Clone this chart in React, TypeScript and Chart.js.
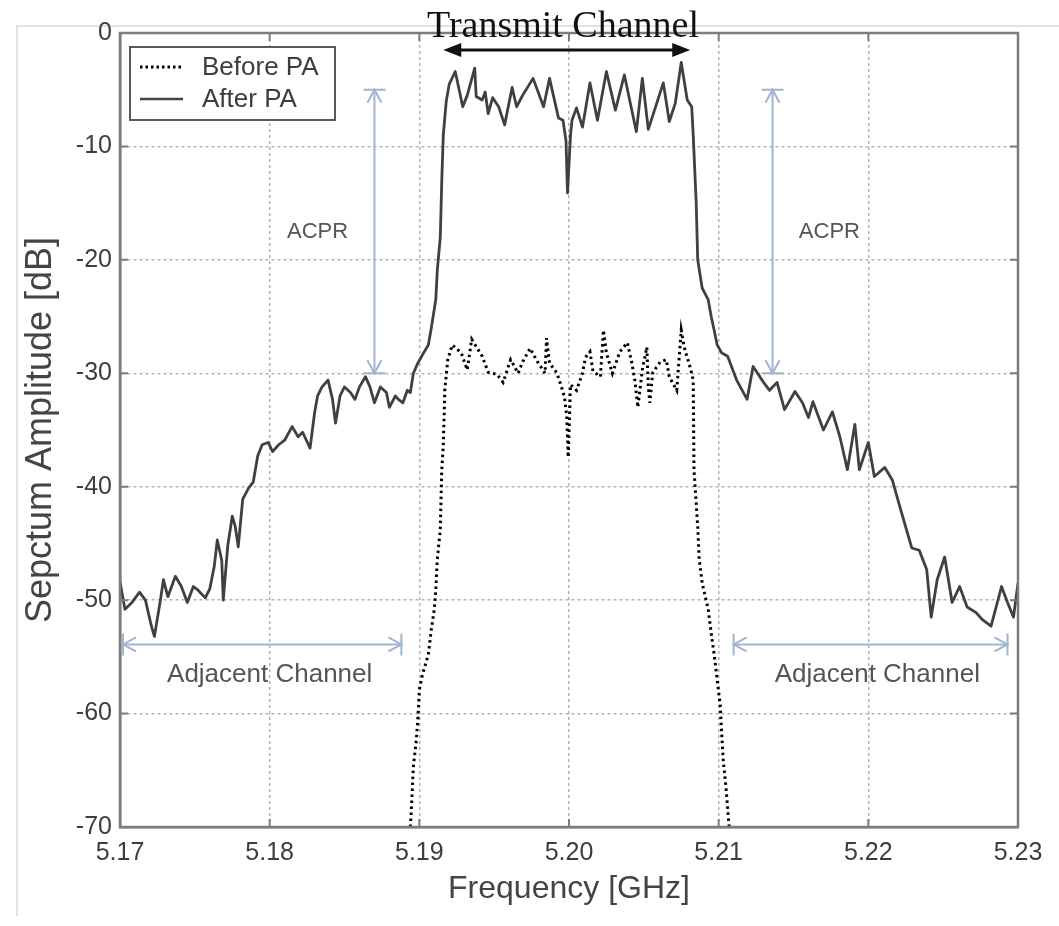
import React, { useEffect, useRef } from "react";
import { Chart, registerables } from "chart.js";

Chart.register(...registerables);

// ---- axis ticks ----
const X_TICKS = [5.17, 5.18, 5.19, 5.2, 5.21, 5.22, 5.23];
const Y_TICKS = [0, -10, -20, -30, -40, -50, -60, -70];

// ---- series: After PA (solid) ----
const AFTER_FREQ = [
  5.17, 5.17033, 5.1708, 5.1713, 5.1717, 5.1721, 5.1723, 5.1727, 5.1729, 5.1732,
  5.1737, 5.1741, 5.1745, 5.1749, 5.1752, 5.1757, 5.176, 5.1763, 5.1765, 5.1768,
  5.1769, 5.1772, 5.1775, 5.1777, 5.1779, 5.1782, 5.1786, 5.1789, 5.1792, 5.1795,
  5.1799, 5.1802, 5.1806, 5.181, 5.1815, 5.1819, 5.1822, 5.1827, 5.183, 5.1832,
  5.1835, 5.1839, 5.1842, 5.1844, 5.1847, 5.185, 5.1854, 5.1857, 5.186, 5.1864,
  5.1867, 5.187, 5.1874, 5.1878, 5.188, 5.1884, 5.1886, 5.1889, 5.1892, 5.1894,
  5.1896, 5.1899, 5.1902, 5.1906, 5.1908, 5.1911, 5.1912, 5.1914, 5.1915, 5.1916,
  5.1918, 5.192, 5.1924, 5.1929, 5.1932, 5.1937, 5.1938, 5.1942, 5.1944, 5.1946,
  5.1949, 5.1953, 5.1957, 5.1962, 5.1965, 5.1969, 5.1976, 5.1983, 5.1987, 5.1993,
  5.1996, 5.1998, 5.1999, 5.2001, 5.2002, 5.2005, 5.2009, 5.2014, 5.2019, 5.2025,
  5.2031, 5.2037, 5.2045, 5.2049, 5.2053, 5.2063, 5.2067, 5.2071, 5.2075, 5.2079,
  5.2082, 5.2083, 5.2085, 5.2086, 5.2089, 5.2093, 5.2095, 5.2097, 5.2099, 5.2102,
  5.2106, 5.2112, 5.2119, 5.2123, 5.213, 5.2134, 5.2139, 5.2144, 5.2151, 5.2156,
  5.216, 5.2163, 5.217, 5.2176, 5.2181, 5.2186, 5.2191, 5.2194, 5.22, 5.2204,
  5.2211, 5.2216, 5.2222, 5.2229, 5.2234, 5.2239, 5.2242, 5.2246, 5.2251, 5.2256,
  5.2261, 5.2266, 5.2272, 5.2276, 5.2282, 5.2289, 5.2293, 5.2297, 5.23,
];
const AFTER_DB = [
  -48.4, -50.8, -50.2, -49.3, -50.0, -52.3, -53.2, -50.0, -48.2, -49.7,
  -47.9, -48.8, -50.2, -48.8, -49.1, -49.8, -49.0, -47.0, -44.7, -46.5,
  -50.0, -45.2, -42.6, -43.5, -45.3, -41.1, -40.1, -39.6, -37.3, -36.3,
  -36.1, -36.9, -36.3, -35.9, -34.7, -35.6, -35.2, -36.6, -33.5, -32.0,
  -31.2, -30.6, -32.3, -34.4, -32.0, -31.2, -31.7, -32.3, -31.2, -30.3,
  -31.2, -32.6, -31.2, -31.7, -33.0, -32.0, -32.3, -32.6, -31.5, -31.7,
  -30.0, -29.1, -28.4, -27.5, -26.0, -23.5, -20.9, -18.0, -13.0, -9.0,
  -6.0, -4.5, -3.4, -6.5, -5.5, -3.1, -5.6, -5.9, -5.2, -7.1,
  -5.7, -6.5, -8.1, -4.8, -6.5, -5.5, -4.0, -6.5, -4.0, -7.5,
  -7.7, -9.5, -14.1, -9.0, -7.7, -6.6, -8.3, -4.4, -7.7, -3.4,
  -6.8, -3.7, -8.7, -4.0, -8.5, -4.4, -7.8, -6.2, -2.6, -5.9,
  -6.5, -9.0, -15.0, -20.0, -22.5, -23.5, -25.0, -26.2, -27.5, -28.2,
  -28.5, -30.6, -32.3, -29.4, -30.8, -31.5, -30.8, -33.2, -31.6, -32.6,
  -33.9, -32.5, -35.0, -33.4, -35.6, -38.5, -34.5, -38.5, -36.1, -39.1,
  -38.3, -39.4, -42.2, -45.4, -45.6, -47.3, -51.5, -48.2, -46.2, -50.2,
  -48.8, -50.6, -51.1, -51.7, -52.3, -48.8, -50.2, -51.5, -48.5,
];

// ---- series: Before PA (dotted) ----
const BEFORE_FREQ = [
  5.1894, 5.1895, 5.1896, 5.1898, 5.1899, 5.19, 5.1902, 5.1906, 5.1908, 5.191,
  5.1911, 5.1912, 5.1914, 5.19145, 5.1915, 5.1916, 5.19165, 5.1917, 5.1919, 5.1922,
  5.1928, 5.1932, 5.1935, 5.1942, 5.1946, 5.1952, 5.1956, 5.1961, 5.1966, 5.1969,
  5.1974, 5.1979, 5.1984, 5.1985, 5.1987, 5.1992, 5.1995, 5.1997, 5.19985, 5.19995,
  5.2001, 5.2005, 5.2009, 5.2011, 5.2014, 5.2016, 5.2021, 5.2023, 5.2025, 5.2029,
  5.2034, 5.2039, 5.2042, 5.2044, 5.2046, 5.2049, 5.2052, 5.2053, 5.2054, 5.2056,
  5.2061, 5.2065, 5.2067, 5.2072, 5.2073, 5.2075, 5.2077, 5.2081, 5.2083, 5.20835,
  5.2086, 5.2087, 5.2089, 5.2093, 5.2095, 5.2097, 5.2099, 5.2101, 5.2102, 5.2103,
  5.2105, 5.2107,
];
const BEFORE_DB = [
  -70.0, -67.6, -64.7, -62.3, -60.5, -57.9, -56.6, -54.8, -52.6, -50.8,
  -49.1, -46.4, -43.8, -41.1, -38.5, -36.3, -34.1, -31.5, -28.8, -27.5,
  -28.2, -29.7, -27.0, -28.5, -29.9, -30.1, -30.8, -28.8, -30.0, -29.0,
  -27.8, -29.0, -30.0, -26.9, -29.1, -30.0, -31.2, -32.1, -33.8, -37.4,
  -31.0, -31.5, -30.0, -28.6, -28.1, -29.8, -30.3, -26.2, -28.2, -30.0,
  -28.1, -27.3, -29.1, -30.6, -33.0, -29.7, -27.7, -31.2, -32.6, -29.9,
  -29.0, -28.8, -30.3, -31.5, -29.7, -26.2, -27.7, -29.5, -30.6, -38.5,
  -43.5, -46.4, -48.5, -50.8, -52.9, -54.8, -57.0, -59.2, -61.7, -64.0,
  -66.7, -70.0,
];

const SERIES_NAMES = ["Before PA", "After PA"];
const X_TITLE = "Frequency [GHz]";
const Y_TITLE = "Sepctum Amplitude [dB]";

// ---- annotations (data units) ----
const TRANSMIT_LABEL = "Transmit Channel";
const TRANSMIT_FROM = 5.1916;
const TRANSMIT_TO = 5.2081;
const TRANSMIT_DB = -1.5;
const TRANSMIT_LABEL_F = 5.1996;

const ACPR_LABEL = "ACPR";
const ACPR_ARROW_F = [5.187, 5.2136];
const ACPR_TOP_DB = -5;
const ACPR_BOTTOM_DB = -30;
const ACPR_LABEL_F = [5.1832, 5.2174];
const ACPR_LABEL_DB = -17.5;

const ADJ_LABEL = "Adjacent Channel";
const ADJ_FROM = [5.1702, 5.211];
const ADJ_TO = [5.1888, 5.2293];
const ADJ_DB = -53.9;
const ADJ_LABEL_F = [5.18, 5.2206];
const ADJ_LABEL_DB = -56.6;

const SANS = "'Liberation Sans', Arial, sans-serif";
const SERIF = "'Liberation Serif', 'Times New Roman', serif";
const AXIS_GREY = "#7c7c7c";
const TEXT_GREY = "#3d3d3d";
const NOTE_BLUE = "#9fb5d2";
const NOTE_TEXT = "#555555";

function openHead(ctx: CanvasRenderingContext2D, tx: number, ty: number, ux: number, uy: number, len: number, half: number) {
  const bx = tx - ux * len;
  const by = ty - uy * len;
  const nx = -uy;
  const ny = ux;
  ctx.beginPath();
  ctx.moveTo(bx + nx * half, by + ny * half);
  ctx.lineTo(tx, ty);
  ctx.lineTo(bx - nx * half, by - ny * half);
  ctx.stroke();
}

function capArrow(ctx: CanvasRenderingContext2D, x1: number, y1: number, x2: number, y2: number) {
  const dx = x2 - x1;
  const dy = y2 - y1;
  const L = Math.hypot(dx, dy);
  const ux = dx / L;
  const uy = dy / L;
  const nx = -uy;
  const ny = ux;
  ctx.save();
  ctx.strokeStyle = NOTE_BLUE;
  ctx.lineWidth = 2;
  ctx.beginPath();
  ctx.moveTo(x1, y1);
  ctx.lineTo(x2, y2);
  ctx.stroke();
  const bar = 11;
  ctx.beginPath();
  ctx.moveTo(x1 + nx * bar, y1 + ny * bar);
  ctx.lineTo(x1 - nx * bar, y1 - ny * bar);
  ctx.moveTo(x2 + nx * bar, y2 + ny * bar);
  ctx.lineTo(x2 - nx * bar, y2 - ny * bar);
  ctx.stroke();
  openHead(ctx, x2, y2, ux, uy, 13, 7);
  openHead(ctx, x1, y1, -ux, -uy, 13, 7);
  ctx.restore();
}

function filledHead(ctx: CanvasRenderingContext2D, tx: number, ty: number, dir: number) {
  ctx.beginPath();
  ctx.moveTo(tx, ty);
  ctx.lineTo(tx - dir * 18, ty - 7);
  ctx.lineTo(tx - dir * 18, ty + 7);
  ctx.closePath();
  ctx.fill();
}

const decorPlugin = {
  id: "decor",
  beforeDraw(chart: any) {
    const { ctx, width, height } = chart;
    ctx.save();
    ctx.fillStyle = "#ffffff";
    ctx.fillRect(0, 0, width, height);
    ctx.strokeStyle = "#e2e2e2";
    ctx.lineWidth = 2;
    ctx.beginPath();
    ctx.moveTo(17, height - 10);
    ctx.lineTo(17, 26);
    ctx.lineTo(width, 26);
    ctx.stroke();
    ctx.restore();
  },
  afterDatasetsDraw(chart: any) {
    const { ctx, chartArea: a, scales } = chart;
    const xs = scales.x;
    const ys = scales.y;
    ctx.save();
    ctx.strokeStyle = AXIS_GREY;
    ctx.lineWidth = 2.5;
    ctx.strokeRect(a.left, a.top, a.right - a.left, a.bottom - a.top);
    ctx.lineWidth = 2;
    ctx.beginPath();
    X_TICKS.forEach((v) => {
      const px = xs.getPixelForValue(v);
      ctx.moveTo(px, a.bottom);
      ctx.lineTo(px, a.bottom - 8);
      ctx.moveTo(px, a.top);
      ctx.lineTo(px, a.top + 8);
    });
    Y_TICKS.forEach((v) => {
      const py = ys.getPixelForValue(v);
      ctx.moveTo(a.left, py);
      ctx.lineTo(a.left + 8, py);
      ctx.moveTo(a.right, py);
      ctx.lineTo(a.right - 8, py);
    });
    ctx.stroke();

    // legend
    const lx = a.left + 10;
    const ly = a.top + 14;
    const lw = 205;
    const lh = 73;
    ctx.fillStyle = "#ffffff";
    ctx.fillRect(lx, ly, lw, lh);
    ctx.strokeStyle = "#595959";
    ctx.lineWidth = 2;
    ctx.strokeRect(lx, ly, lw, lh);
    const rows = [ly + 20, ly + 52];
    ctx.lineWidth = 3;
    ctx.strokeStyle = "#000000";
    ctx.setLineDash([2.5, 3]);
    ctx.beginPath();
    ctx.moveTo(lx + 10, rows[0]);
    ctx.lineTo(lx + 53, rows[0]);
    ctx.stroke();
    ctx.setLineDash([]);
    ctx.strokeStyle = "#444444";
    ctx.lineWidth = 2.5;
    ctx.beginPath();
    ctx.moveTo(lx + 10, rows[1]);
    ctx.lineTo(lx + 53, rows[1]);
    ctx.stroke();
    ctx.fillStyle = TEXT_GREY;
    ctx.font = `26px ${SANS}`;
    ctx.textAlign = "left";
    ctx.textBaseline = "middle";
    ctx.fillText(SERIES_NAMES[0], lx + 72, rows[0] + 1);
    ctx.fillText(SERIES_NAMES[1], lx + 72, rows[1] + 1);

    // ACPR arrows + labels
    ACPR_ARROW_F.forEach((f) => {
      const px = xs.getPixelForValue(f);
      capArrow(ctx, px, ys.getPixelForValue(ACPR_TOP_DB), px, ys.getPixelForValue(ACPR_BOTTOM_DB));
    });
    ctx.fillStyle = NOTE_TEXT;
    ctx.font = `22px ${SANS}`;
    ctx.textAlign = "center";
    ctx.textBaseline = "middle";
    ACPR_LABEL_F.forEach((f) => {
      ctx.fillText(ACPR_LABEL, xs.getPixelForValue(f), ys.getPixelForValue(ACPR_LABEL_DB));
    });

    // Adjacent channel arrows + labels
    ADJ_FROM.forEach((f, i) => {
      const py = ys.getPixelForValue(ADJ_DB);
      capArrow(ctx, xs.getPixelForValue(f), py, xs.getPixelForValue(ADJ_TO[i]), py);
    });
    ctx.fillStyle = NOTE_TEXT;
    ctx.font = `26px ${SANS}`;
    ADJ_LABEL_F.forEach((f) => {
      ctx.fillText(ADJ_LABEL, xs.getPixelForValue(f), ys.getPixelForValue(ADJ_LABEL_DB));
    });

    // Transmit channel arrow + label
    const ty = ys.getPixelForValue(TRANSMIT_DB);
    const tx1 = xs.getPixelForValue(TRANSMIT_FROM);
    const tx2 = xs.getPixelForValue(TRANSMIT_TO);
    ctx.strokeStyle = "#111111";
    ctx.fillStyle = "#111111";
    ctx.lineWidth = 3;
    ctx.beginPath();
    ctx.moveTo(tx1 + 10, ty);
    ctx.lineTo(tx2 - 10, ty);
    ctx.stroke();
    filledHead(ctx, tx1, ty, -1);
    filledHead(ctx, tx2, ty, 1);
    ctx.font = `38px ${SERIF}`;
    ctx.textAlign = "center";
    ctx.textBaseline = "alphabetic";
    ctx.fillStyle = "#111111";
    ctx.fillText(TRANSMIT_LABEL, xs.getPixelForValue(TRANSMIT_LABEL_F), a.top + 4);
    ctx.restore();
  },
};

export default function App() {
  const ref = useRef<HTMLCanvasElement | null>(null);

  useEffect(() => {
    if (!ref.current) return;
    const chart = new Chart(ref.current, {
      type: "line",
      data: {
        datasets: [
          {
            label: SERIES_NAMES[0],
            data: BEFORE_FREQ.map((f, i) => ({ x: f, y: BEFORE_DB[i] })),
            borderColor: "#000000",
            borderWidth: 3,
            borderDash: [2.5, 3.5],
            pointRadius: 0,
            tension: 0,
            fill: false,
          },
          {
            label: SERIES_NAMES[1],
            data: AFTER_FREQ.map((f, i) => ({ x: f, y: AFTER_DB[i] })),
            borderColor: "#404040",
            borderWidth: 2.8,
            borderJoinStyle: "round",
            pointRadius: 0,
            tension: 0,
            fill: false,
          },
        ],
      },
      options: {
        responsive: false,
        animation: false,
        devicePixelRatio: 1,
        events: [],
        layout: { padding: { left: 0, top: 33, right: 41, bottom: 0 } },
        plugins: {
          legend: { display: false },
          title: { display: false },
          tooltip: { enabled: false },
        },
        scales: {
          x: {
            type: "linear",
            min: 5.17,
            max: 5.23,
            afterBuildTicks: (s: any) => {
              s.ticks = X_TICKS.map((v) => ({ value: v }));
            },
            afterFit: (s: any) => {
              s.height = 99;
            },
            ticks: {
              autoSkip: false,
              maxRotation: 0,
              padding: 11,
              color: TEXT_GREY,
              font: { family: SANS, size: 25 },
              callback: (v: any) => Number(v).toFixed(2),
            },
            grid: { color: "#b3b3b3", lineWidth: 1.5, drawTicks: false },
            border: { display: true, color: AXIS_GREY, width: 2.5, dash: [3, 3] },
            title: {
              display: true,
              text: X_TITLE,
              color: "#444444",
              font: { family: SANS, size: 32 },
              padding: { top: 0, bottom: 18 },
            },
          },
          y: {
            type: "linear",
            min: -70,
            max: 0,
            afterBuildTicks: (s: any) => {
              s.ticks = Y_TICKS.map((v) => ({ value: v }));
            },
            afterFit: (s: any) => {
              s.width = 120;
            },
            ticks: {
              autoSkip: false,
              padding: 8,
              color: TEXT_GREY,
              font: { family: SANS, size: 25 },
              callback: (v: any) => String(v),
            },
            grid: { color: "#b3b3b3", lineWidth: 1.5, drawTicks: false },
            border: { display: true, color: AXIS_GREY, width: 2.5, dash: [3, 3] },
            title: {
              display: true,
              text: Y_TITLE,
              color: "#444444",
              font: { family: SANS, size: 36 },
              padding: { top: 19, bottom: 0 },
            },
          },
        },
      },
      plugins: [decorPlugin],
    } as any);
    return () => chart.destroy();
  }, []);

  return (
    <div style={{ position: "fixed", left: 0, top: 0, width: 1059, height: 926, background: "#fff" }}>
      <canvas ref={ref} width={1059} height={926} style={{ display: "block", width: 1059, height: 926 }} />
    </div>
  );
}
